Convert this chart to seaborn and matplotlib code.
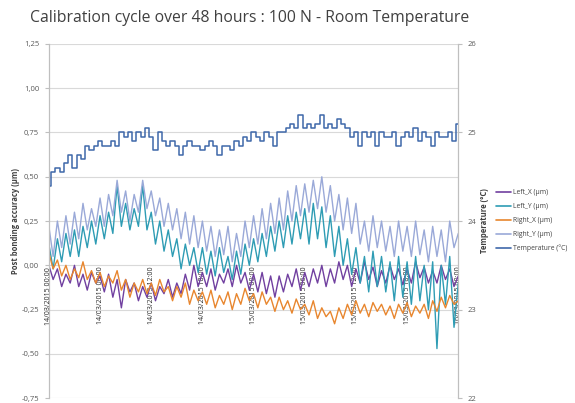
import numpy as np
import pandas as pd
import matplotlib
matplotlib.use("Agg")
import matplotlib.pyplot as plt
from matplotlib.lines import Line2D
import matplotlib.ticker as mticker
import seaborn as sns

# Readings every 30 min over 48 h
left_x = [0.0, -0.08, -0.02, -0.12, -0.05, -0.1,
          0.0, -0.12, -0.05, -0.14, -0.04, -0.1,
          -0.06, -0.15, -0.05, -0.18, -0.08, -0.24,
          -0.08, -0.15, -0.1, -0.2, -0.12, -0.18,
          -0.1, -0.2, -0.12, -0.16, -0.08, -0.18,
          -0.1, -0.16, -0.05, -0.14, 0.0, -0.12,
          -0.04, -0.12, -0.02, -0.14, -0.05, -0.1,
          -0.02, -0.12, 0.0, -0.1, -0.04, -0.14,
          -0.05, -0.15, -0.04, -0.16, -0.06, -0.18,
          -0.06, -0.15, -0.05, -0.12, -0.02, -0.14,
          -0.04, -0.12, -0.02, -0.1, 0.0, -0.12,
          -0.02, -0.1, 0.02, -0.08, 0.0, -0.12,
          -0.02, -0.1, 0.02, -0.08, -0.01, -0.12,
          -0.03, -0.1, 0.0, -0.08, -0.02, -0.11,
          -0.02, -0.1, 0.02, -0.07, -0.01, -0.1,
          -0.03, -0.1, 0.0, -0.08, -0.02, -0.12, -0.06]

left_y = [0.12, -0.02, 0.15, 0.02, 0.18, 0.05,
          0.2, 0.05, 0.22, 0.1, 0.25, 0.12,
          0.28, 0.15, 0.3, 0.18, 0.45, 0.22,
          0.35, 0.2, 0.32, 0.22, 0.45, 0.2,
          0.3, 0.12, 0.25, 0.08, 0.2, 0.05,
          0.15, -0.02, 0.12, 0.0, 0.1, -0.04,
          0.1, -0.05, 0.08, -0.06, 0.1, -0.04,
          0.05, -0.08, 0.08, -0.05, 0.12, 0.0,
          0.15, 0.02, 0.18, 0.05, 0.22, 0.08,
          0.25, 0.1, 0.28, 0.12, 0.3, 0.15,
          0.32, 0.12, 0.35, 0.15, 0.33, 0.1,
          0.28, 0.05, 0.22, 0.0, 0.15, -0.05,
          0.1, -0.1, 0.05, -0.15, 0.08, -0.12,
          0.05, -0.15, 0.02, -0.2, 0.05, -0.18,
          0.02, -0.22, 0.05, -0.2, 0.0, -0.25,
          0.02, -0.47, 0.0, -0.22, 0.05, -0.35, -0.1]

right_x = [0.07, -0.02, 0.03, -0.06, 0.0, -0.08,
           -0.02, -0.07, 0.02, -0.08, -0.03, -0.1,
           -0.04, -0.12, -0.06, -0.1, -0.03, -0.14,
           -0.08, -0.18, -0.1, -0.15, -0.08, -0.16,
           -0.1, -0.17, -0.08, -0.15, -0.12, -0.2,
           -0.12, -0.18, -0.1, -0.22, -0.14, -0.2,
           -0.15, -0.22, -0.14, -0.24, -0.17, -0.22,
           -0.15, -0.25, -0.16, -0.22, -0.13, -0.2,
           -0.16, -0.24, -0.15, -0.22, -0.18, -0.26,
           -0.18, -0.25, -0.2, -0.27, -0.19, -0.25,
           -0.22, -0.28, -0.2, -0.3, -0.24, -0.29,
           -0.26, -0.33, -0.24, -0.3, -0.22, -0.28,
           -0.2, -0.27, -0.22, -0.29, -0.21, -0.26,
           -0.22, -0.28, -0.23, -0.3, -0.22, -0.27,
           -0.21, -0.29, -0.23, -0.27, -0.22, -0.3,
           -0.2, -0.26, -0.18, -0.24, -0.17, -0.22, -0.2]

right_y = [0.22, 0.05, 0.25, 0.1, 0.28, 0.12,
           0.3, 0.15, 0.35, 0.2, 0.32, 0.22,
           0.38, 0.22, 0.4, 0.28, 0.48, 0.3,
           0.42, 0.25, 0.4, 0.3, 0.48, 0.32,
           0.42, 0.28, 0.38, 0.22, 0.35, 0.2,
           0.32, 0.15, 0.3, 0.12, 0.28, 0.1,
           0.25, 0.08, 0.22, 0.05, 0.2, 0.06,
           0.22, 0.02, 0.18, 0.05, 0.25, 0.1,
           0.28, 0.12, 0.32, 0.15, 0.35, 0.18,
           0.38, 0.2, 0.42, 0.25, 0.45, 0.28,
           0.46, 0.3, 0.48, 0.32, 0.5, 0.3,
           0.45, 0.25, 0.4, 0.2, 0.38, 0.18,
           0.35, 0.12, 0.25, 0.08, 0.28, 0.1,
           0.25, 0.08, 0.22, 0.05, 0.25, 0.08,
           0.22, 0.05, 0.25, 0.06, 0.2, 0.02,
           0.22, 0.05, 0.2, 0.02, 0.25, 0.1, 0.18]

temperature = [24.4, 24.55, 24.6, 24.55,
               24.65, 24.75, 24.6, 24.75, 24.7,
               24.85, 24.8, 24.85, 24.9, 24.85, 24.85, 24.9, 24.85,
               25.0, 24.95, 25.0, 24.9, 25.0, 24.95, 25.05, 24.95, 24.8, 25.0,
               24.9, 24.85, 24.9, 24.85, 24.75, 24.85, 24.9, 24.85, 24.85, 24.8,
               24.85, 24.9, 24.85, 24.75, 24.85, 24.85, 24.8, 24.9, 24.85,
               24.95, 24.9, 25.0, 24.95, 24.9, 25.0, 24.95, 24.85, 25.0, 25.0,
               25.05, 25.1, 25.05, 25.2, 25.05, 25.1, 25.05, 25.1, 25.2, 25.05,
               25.1, 25.05, 25.15, 25.1, 25.05,
               24.95, 25.0, 24.85, 25.0, 24.95, 25.0, 24.85, 25.0, 24.95, 24.95,
               25.0, 24.85, 24.95, 25.0, 24.95, 25.05, 24.9, 25.0, 24.95, 24.85,
               25.0, 24.95, 24.95, 25.0, 24.9, 25.1]

series_names = ["Left_X (µm)", "Left_Y (µm)", "Right_X (µm)", "Right_Y (µm)"]
temp_name = "Temperature (°C)"
left_ticks = [-0.75, -0.5, -0.25, 0.0, 0.25, 0.5, 0.75, 1.0, 1.25]
left_tick_labels = ["-0,75", "-0,50", "-0,25", "0,00", "0,25", "0,50", "0,75", "1,00", "1,25"]
right_ticks = [22, 23, 24, 25, 26]

colors = ["#7140A0", "#2E9CB4", "#E8862E", "#9AA9D8"]
temp_color = "#3F68AA"

times = pd.date_range("2015-03-14 00:00", periods=len(temperature), freq="30min")
df = pd.DataFrame({"time": times, series_names[0]: left_x, series_names[1]: left_y,
                   series_names[2]: right_x, series_names[3]: right_y})
df = df.melt(id_vars="time", var_name="series", value_name="value")

sns.set_style("white")
plt.rcParams["font.family"] = ["Open Sans", "DejaVu Sans"]

fig = plt.figure(figsize=(5.75, 4.03), dpi=100)
ax = fig.add_axes([0.085, 0.012, 0.712, 0.879])
sns.lineplot(data=df, x="time", y="value", hue="series", hue_order=series_names,
             palette=colors, lw=1.0, errorbar=None, legend=False, ax=ax)

ax2 = ax.twinx()
sns.lineplot(x=times, y=temperature, color=temp_color, lw=1.1, errorbar=None,
             drawstyle="steps-mid", ax=ax2)

ax.set_xlim(times[0], times[-1])
ax.set_ylim(-0.75, 1.25)
ax.set_yticks(left_ticks)
ax.set_yticklabels(left_tick_labels)
ax.grid(axis="y", color="#d9d9d9", lw=0.8)
ax.grid(axis="x", visible=False)
ax2.set_ylim(22, 26)
ax2.set_yticks(right_ticks)
ax2.grid(False)

xt = pd.date_range("2015-03-14 00:00", periods=9, freq="6h")
xt_labels = [t.strftime("%d/%m/%Y %H:%M") for t in xt]
ax.xaxis.set_major_locator(mticker.FixedLocator(matplotlib.dates.date2num(xt)))
ax.xaxis.set_major_formatter(mticker.FixedFormatter(xt_labels))
ax.spines["bottom"].set_position(("data", 0))
ax.tick_params(axis="x", length=0, pad=1, labelrotation=90, labelsize=5.0, labelcolor="#262626")

for a in (ax, ax2):
    a.spines["top"].set_visible(False)
    a.spines["bottom"].set_visible(False)
    a.spines["left"].set_color("#bfbfbf")
    a.spines["right"].set_color("#bfbfbf")
    a.spines["left"].set_linewidth(0.8)
    a.spines["right"].set_linewidth(0.8)
ax.tick_params(axis="y", labelsize=5.5, labelcolor="#595959", length=3, color="#bfbfbf", pad=4, left=True)
ax2.tick_params(axis="y", labelsize=5.5, labelcolor="#595959", length=3, color="#bfbfbf", pad=4, right=True)

ax.set_xlabel("")
ax.set_ylabel("Post bonding accuracy (µm)", fontsize=5.5, fontweight="bold", color="#404040", labelpad=1)
ax2.set_ylabel("Temperature (°C)", fontsize=5.5, fontweight="bold", color="#404040", labelpad=2)

handles = [Line2D([], [], color=c, lw=1.2) for c in colors] + [Line2D([], [], color=temp_color, lw=1.2)]
fig.legend(handles, series_names + [temp_name], loc="upper left",
           bbox_to_anchor=(0.852, 0.545), frameon=False, fontsize=4.9,
           handlelength=2.2, handletextpad=0.3, labelspacing=1.0, labelcolor="#404040")

fig.text(0.435, 0.955, "Calibration cycle over 48 hours : 100 N - Room Temperature",
         ha="center", va="center", fontsize=11.3, color="#404040")

fig.savefig("out.png", dpi=100)
